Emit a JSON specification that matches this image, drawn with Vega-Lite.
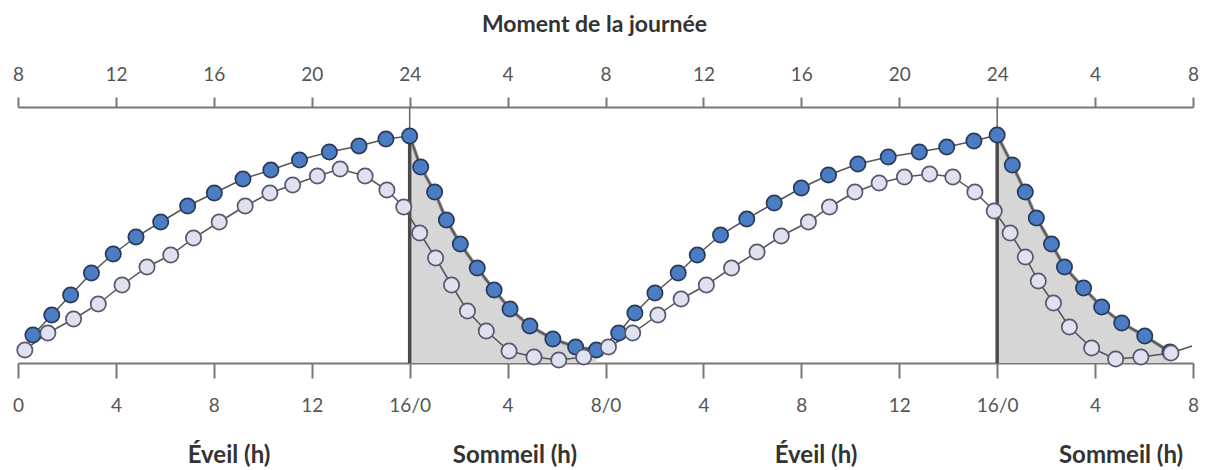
{
  "$schema": "https://vega.github.io/schema/vega-lite/v6.json",
  "width": 1175,
  "height": 256,
  "autosize": "none",
  "padding": {"left": 18, "top": 107, "right": 14, "bottom": 107},
  "background": "white",
  "config": {"view": {"stroke": null}, "font": "Lato"},
  "datasets": {
    "courbes": [
      {"h": 0.61, "v": 28, "serie": "A"}, {"h": 1.38, "v": 48, "serie": "A"}, {"h": 2.15, "v": 68, "serie": "A"}, {"h": 3.0, "v": 90, "serie": "A"},
      {"h": 3.89, "v": 109, "serie": "A"}, {"h": 4.82, "v": 126, "serie": "A"}, {"h": 5.83, "v": 141, "serie": "A"}, {"h": 6.93, "v": 157, "serie": "A"},
      {"h": 8.02, "v": 170, "serie": "A"}, {"h": 9.19, "v": 184, "serie": "A"}, {"h": 10.33, "v": 193, "serie": "A"}, {"h": 11.5, "v": 203, "serie": "A"},
      {"h": 12.72, "v": 211, "serie": "A"}, {"h": 13.93, "v": 217, "serie": "A"}, {"h": 15.03, "v": 224, "serie": "A"}, {"h": 16.0, "v": 227, "serie": "A"},
      {"h": 16.45, "v": 196, "serie": "A"}, {"h": 17.02, "v": 171, "serie": "A"}, {"h": 17.5, "v": 143, "serie": "A"}, {"h": 18.07, "v": 119, "serie": "A"},
      {"h": 18.76, "v": 95, "serie": "A"}, {"h": 19.45, "v": 73, "serie": "A"}, {"h": 20.1, "v": 54, "serie": "A"}, {"h": 20.91, "v": 37, "serie": "A"},
      {"h": 21.85, "v": 24, "serie": "A"}, {"h": 22.78, "v": 16, "serie": "A"}, {"h": 23.63, "v": 13, "serie": "A"},
      {"h": 24.54, "v": 30, "serie": "A"}, {"h": 25.2, "v": 50, "serie": "A"}, {"h": 26.02, "v": 70, "serie": "A"}, {"h": 26.97, "v": 90, "serie": "A"},
      {"h": 27.75, "v": 108, "serie": "A"}, {"h": 28.7, "v": 128, "serie": "A"}, {"h": 29.77, "v": 144, "serie": "A"}, {"h": 30.89, "v": 160, "serie": "A"},
      {"h": 32.0, "v": 175, "serie": "A"}, {"h": 33.11, "v": 188, "serie": "A"}, {"h": 34.31, "v": 199, "serie": "A"}, {"h": 35.55, "v": 206, "serie": "A"},
      {"h": 36.82, "v": 211, "serie": "A"}, {"h": 37.94, "v": 216, "serie": "A"}, {"h": 39.05, "v": 222, "serie": "A"}, {"h": 40.0, "v": 228, "serie": "A"},
      {"h": 40.62, "v": 198, "serie": "A"}, {"h": 41.15, "v": 171, "serie": "A"}, {"h": 41.6, "v": 145, "serie": "A"}, {"h": 42.22, "v": 119, "serie": "A"},
      {"h": 42.75, "v": 96, "serie": "A"}, {"h": 43.53, "v": 75, "serie": "A"}, {"h": 44.27, "v": 56, "serie": "A"}, {"h": 45.09, "v": 40, "serie": "A"},
      {"h": 46.03, "v": 27, "serie": "A"}, {"h": 47.06, "v": 11, "serie": "A"},
      {"h": 0.28, "v": 13, "serie": "B"}, {"h": 1.22, "v": 30, "serie": "B"}, {"h": 2.27, "v": 44, "serie": "B"}, {"h": 3.28, "v": 59, "serie": "B"},
      {"h": 4.25, "v": 78, "serie": "B"}, {"h": 5.27, "v": 96, "serie": "B"}, {"h": 6.24, "v": 108, "serie": "B"}, {"h": 7.17, "v": 125, "serie": "B"},
      {"h": 8.22, "v": 141, "serie": "B"}, {"h": 9.28, "v": 157, "serie": "B"}, {"h": 10.29, "v": 170, "serie": "B"}, {"h": 11.22, "v": 178, "serie": "B"},
      {"h": 12.23, "v": 187, "serie": "B"}, {"h": 13.16, "v": 194, "serie": "B"}, {"h": 14.18, "v": 187, "serie": "B"}, {"h": 15.07, "v": 173, "serie": "B"},
      {"h": 15.76, "v": 156, "serie": "B"},
      {"h": 16.41, "v": 130, "serie": "B"}, {"h": 17.06, "v": 105, "serie": "B"}, {"h": 17.71, "v": 78, "serie": "B"}, {"h": 18.36, "v": 52, "serie": "B"},
      {"h": 19.13, "v": 32, "serie": "B"}, {"h": 20.06, "v": 12, "serie": "B"}, {"h": 21.08, "v": 6, "serie": "B"}, {"h": 22.09, "v": 3, "serie": "B"},
      {"h": 23.11, "v": 6, "serie": "B"},
      {"h": 24.12, "v": 16, "serie": "B"}, {"h": 25.11, "v": 30, "serie": "B"}, {"h": 26.14, "v": 48, "serie": "B"}, {"h": 27.09, "v": 64, "serie": "B"},
      {"h": 28.12, "v": 78, "serie": "B"}, {"h": 29.15, "v": 95, "serie": "B"}, {"h": 30.19, "v": 111, "serie": "B"}, {"h": 31.18, "v": 127, "serie": "B"},
      {"h": 32.29, "v": 141, "serie": "B"}, {"h": 33.15, "v": 156, "serie": "B"}, {"h": 34.19, "v": 171, "serie": "B"}, {"h": 35.18, "v": 180, "serie": "B"},
      {"h": 36.21, "v": 186, "serie": "B"}, {"h": 37.24, "v": 189, "serie": "B"}, {"h": 38.19, "v": 186, "serie": "B"}, {"h": 39.09, "v": 171, "serie": "B"},
      {"h": 39.88, "v": 152, "serie": "B"},
      {"h": 40.53, "v": 130, "serie": "B"}, {"h": 41.15, "v": 106, "serie": "B"}, {"h": 41.68, "v": 82, "serie": "B"}, {"h": 42.3, "v": 60, "serie": "B"},
      {"h": 42.95, "v": 36, "serie": "B"}, {"h": 43.86, "v": 15, "serie": "B"}, {"h": 44.84, "v": 4, "serie": "B"}, {"h": 45.87, "v": 6, "serie": "B"},
      {"h": 47.1, "v": 10, "serie": "B"}, {"h": 47.96, "v": 17, "serie": "B"}
    ],
    "coucher": [{"h": 16, "pic": 227, "haut": 256, "bas": 0}, {"h": 40, "pic": 228, "haut": 256, "bas": 0}],
    "phases": [
      {"h": 8.62, "label": "Éveil (h)", "niveau": -93}, {"h": 20.3, "label": "Sommeil (h)", "niveau": -93},
      {"h": 32.6, "label": "Éveil (h)", "niveau": -93}, {"h": 45.06, "label": "Sommeil (h)", "niveau": -93}
    ]
  },
  "resolve": {"scale": {"x": "independent"}},
  "layer": [
    {
      "data": {"name": "courbes"},
      "transform": [{"filter": "datum.serie == 'A' && datum.h >= 16 && datum.h < 24"}],
      "mark": {"type": "area", "color": "#d6d6d6", "opacity": 1, "line": {"color": "#8a8a8a", "strokeWidth": 3.5}},
      "encoding": {
        "x": {"field": "h", "type": "quantitative", "scale": {"domain": [0, 48], "nice": false, "zero": false},
          "axis": {"orient": "bottom", "values": [0,4,8,12,16,20,24,28,32,36,40,44,48],
            "labelExpr": "datum.value == 16 || datum.value == 40 ? '16/0' : datum.value == 24 ? '8/0' : datum.value < 16 ? datum.value : datum.value < 24 ? datum.value - 16 : datum.value < 40 ? datum.value - 24 : datum.value - 40",
            "title": null, "grid": false, "domainColor": "#777", "domainWidth": 2, "tickColor": "#777", "tickWidth": 2, "tickSize": 15,
            "labelFont": "Lato", "labelFontSize": 19, "labelColor": "#555", "labelPadding": 18, "labelFlush": false}},
        "y": {"field": "v", "type": "quantitative", "scale": {"domain": [0, 256]}, "axis": null}
      }
    },
    {
      "data": {"name": "courbes"},
      "transform": [{"filter": "datum.serie == 'A' && datum.h >= 40"}],
      "mark": {"type": "area", "color": "#d6d6d6", "opacity": 1, "line": {"color": "#8a8a8a", "strokeWidth": 3.5}},
      "encoding": {
        "x": {"field": "h", "type": "quantitative", "scale": {"domain": [0, 48], "nice": false, "zero": false},
          "axis": {"orient": "top", "values": [0,4,8,12,16,20,24,28,32,36,40,44,48],
            "labelExpr": "(8 + datum.value) % 24 == 0 ? 24 : (8 + datum.value) % 24",
            "title": "Moment de la journée", "titleFont": "Lato", "titleFontSize": 23, "titleFontWeight": "bold", "titleColor": "#333", "titlePadding": 29,
            "titleX": 576, "titleAlign": "center",
            "grid": false, "domainColor": "#777", "domainWidth": 2, "tickColor": "#777", "tickWidth": 2, "tickSize": 10,
            "labelFont": "Lato", "labelFontSize": 19, "labelColor": "#555", "labelPadding": 13, "labelFlush": false}},
        "y": {"field": "v", "type": "quantitative", "scale": {"domain": [0, 256]}, "axis": null}
      }
    },
    {
      "data": {"name": "coucher"},
      "mark": {"type": "rule", "color": "#666", "strokeWidth": 1.5},
      "encoding": {
        "x": {"field": "h", "type": "quantitative", "scale": {"domain": [0, 48], "nice": false, "zero": false}, "axis": null},
        "y": {"field": "bas", "type": "quantitative", "scale": {"domain": [0, 256]}, "axis": null},
        "y2": {"field": "haut"}
      }
    },
    {
      "data": {"name": "coucher"},
      "mark": {"type": "rule", "color": "#4a4a4a", "strokeWidth": 3.5},
      "encoding": {
        "x": {"field": "h", "type": "quantitative", "scale": {"domain": [0, 48], "nice": false, "zero": false}, "axis": null},
        "y": {"field": "bas", "type": "quantitative", "scale": {"domain": [0, 256]}, "axis": null},
        "y2": {"field": "pic"}
      }
    },
    {
      "data": {"name": "courbes"},
      "mark": {"type": "line", "color": "#555", "strokeWidth": 1.5},
      "encoding": {
        "x": {"field": "h", "type": "quantitative", "scale": {"domain": [0, 48], "nice": false, "zero": false}, "axis": null},
        "y": {"field": "v", "type": "quantitative", "scale": {"domain": [0, 256]}, "axis": null},
        "detail": {"field": "serie", "type": "nominal"},
        "order": {"field": "h", "type": "quantitative"}
      }
    },
    {
      "data": {"name": "courbes"},
      "transform": [{"filter": "datum.serie == 'A'"}],
      "mark": {"type": "circle", "size": 235, "fill": "#4a7dc4", "stroke": "#2a3a58", "strokeWidth": 1.7, "opacity": 1},
      "encoding": {
        "x": {"field": "h", "type": "quantitative", "scale": {"domain": [0, 48], "nice": false, "zero": false}, "axis": null},
        "y": {"field": "v", "type": "quantitative", "scale": {"domain": [0, 256]}, "axis": null}
      }
    },
    {
      "data": {"name": "courbes"},
      "transform": [{"filter": "datum.serie == 'B' && datum.h < 47.5"}],
      "mark": {"type": "circle", "size": 235, "fill": "#dfe1ee", "stroke": "#55586e", "strokeWidth": 1.7, "opacity": 1},
      "encoding": {
        "x": {"field": "h", "type": "quantitative", "scale": {"domain": [0, 48], "nice": false, "zero": false}, "axis": null},
        "y": {"field": "v", "type": "quantitative", "scale": {"domain": [0, 256]}, "axis": null}
      }
    },
    {
      "data": {"name": "phases"},
      "mark": {"type": "text", "font": "Lato", "fontSize": 24, "fontWeight": "bold", "color": "#333", "baseline": "middle", "align": "center"},
      "encoding": {
        "x": {"field": "h", "type": "quantitative", "scale": {"domain": [0, 48], "nice": false, "zero": false}, "axis": null},
        "y": {"field": "niveau", "type": "quantitative", "scale": {"domain": [0, 256]}, "axis": null},
        "text": {"field": "label", "type": "nominal"}
      }
    }
  ]
}
